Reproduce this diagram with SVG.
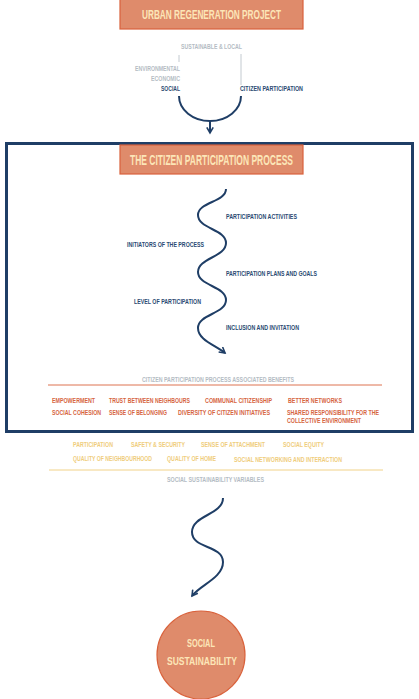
<svg xmlns="http://www.w3.org/2000/svg" width="419" height="699" viewBox="0 0 419 699">
<style>
text{font-family:"Liberation Sans","DejaVu Sans",sans-serif;font-weight:bold}
.box{fill:#df8b6b;stroke:#d9623c;stroke-width:1.2}
.ttl{fill:#fce6b8}
.grey{fill:#b4bcc4;font-size:7px}
.navy{fill:#2a4a72;font-size:7.5px}
.or{fill:#d6653f;font-size:7.5px}
.gold{fill:#efcd7c;font-size:7.5px}
.wave{fill:none;stroke:#1f3e66;stroke-width:2}
</style>
<defs>
<marker id="ah" viewBox="0 0 10 10" refX="8" refY="5" markerWidth="4" markerHeight="4" orient="auto" markerUnits="strokeWidth">
<path d="M1,1 L8,5 L1,9" fill="none" stroke="#1f3e66" stroke-width="2"/>
</marker>
</defs>
<rect x="0" y="0" width="419" height="699" fill="#ffffff"/>

<g id="urban-regeneration-project">
<rect class="box" x="120" y="-1" width="183" height="30"/>
<text class="ttl" transform="scale(0.7 1)" x="202.86" y="19" font-size="12.5" textLength="198.57" lengthAdjust="spacingAndGlyphs">URBAN REGENERATION PROJECT</text>
</g>

<g id="sustainability-labels">
<text class="grey" transform="scale(0.7 1)" x="258.57" y="49" textLength="87.14" lengthAdjust="spacingAndGlyphs">SUSTAINABLE &amp; LOCAL</text>
<line x1="179" y1="55" x2="179" y2="62" stroke="#b4bcc4" stroke-width="0.8"/>
<line x1="241" y1="54" x2="241" y2="85" stroke="#b4bcc4" stroke-width="0.8"/>
<text class="grey" transform="scale(0.7 1)" x="192.86" y="71" textLength="64.29" lengthAdjust="spacingAndGlyphs">ENVIRONMENTAL</text>
<text class="grey" transform="scale(0.7 1)" x="215.71" y="81" textLength="41.43" lengthAdjust="spacingAndGlyphs">ECONOMIC</text>
<text class="navy" transform="scale(0.7 1)" x="230" y="91" textLength="27.14" lengthAdjust="spacingAndGlyphs">SOCIAL</text>
<text class="navy" transform="scale(0.7 1)" x="342.86" y="91" textLength="90" lengthAdjust="spacingAndGlyphs">CITIZEN PARTICIPATION</text>
</g>

<g id="citizen-participation-process">
<rect x="6.5" y="143.5" width="406" height="288" fill="none" stroke="#1f3e66" stroke-width="3"/>
<rect class="box" x="120" y="145" width="183" height="29"/>
<text class="ttl" transform="scale(0.7 1)" x="185.71" y="165" font-size="15" textLength="232.86" lengthAdjust="spacingAndGlyphs">THE CITIZEN PARTICIPATION PROCESS</text>
<text class="navy" transform="scale(0.7 1)" x="322.86" y="219" textLength="101.43" lengthAdjust="spacingAndGlyphs">PARTICIPATION ACTIVITIES</text>
<text class="navy" transform="scale(0.7 1)" x="181.43" y="247" textLength="110" lengthAdjust="spacingAndGlyphs">INITIATORS OF THE PROCESS</text>
<text class="navy" transform="scale(0.7 1)" x="322.86" y="276" textLength="130" lengthAdjust="spacingAndGlyphs">PARTICIPATION PLANS AND GOALS</text>
<text class="navy" transform="scale(0.7 1)" x="191.43" y="304" textLength="95.71" lengthAdjust="spacingAndGlyphs">LEVEL OF PARTICIPATION</text>
<text class="navy" transform="scale(0.7 1)" x="322.86" y="330" textLength="104.29" lengthAdjust="spacingAndGlyphs">INCLUSION AND INVITATION</text>
</g>

<g id="associated-benefits">
<text class="grey" transform="scale(0.7 1)" x="202.86" y="382" textLength="217.14" lengthAdjust="spacingAndGlyphs">CITIZEN PARTICIPATION PROCESS ASSOCIATED BENEFITS</text>
<line x1="48" y1="385" x2="382" y2="385" stroke="#d9623c" stroke-width="0.9"/>
<text class="or" transform="scale(0.7 1)" x="74.29" y="403" textLength="61.43" lengthAdjust="spacingAndGlyphs">EMPOWERMENT</text>
<text class="or" transform="scale(0.7 1)" x="155.71" y="403" textLength="115.71" lengthAdjust="spacingAndGlyphs">TRUST BETWEEN NEIGHBOURS</text>
<text class="or" transform="scale(0.7 1)" x="292.86" y="403" textLength="95.71" lengthAdjust="spacingAndGlyphs">COMMUNAL CITIZENSHIP</text>
<text class="or" transform="scale(0.7 1)" x="411.43" y="403" textLength="77.14" lengthAdjust="spacingAndGlyphs">BETTER NETWORKS</text>
<text class="or" transform="scale(0.7 1)" x="74.29" y="415" textLength="70" lengthAdjust="spacingAndGlyphs">SOCIAL COHESION</text>
<text class="or" transform="scale(0.7 1)" x="155.71" y="415" textLength="82.86" lengthAdjust="spacingAndGlyphs">SENSE OF BELONGING</text>
<text class="or" transform="scale(0.7 1)" x="254.29" y="415" textLength="131.43" lengthAdjust="spacingAndGlyphs">DIVERSITY OF CITIZEN INITIATIVES</text>
<text class="or" transform="scale(0.7 1)" x="410" y="415" textLength="131.43" lengthAdjust="spacingAndGlyphs">SHARED RESPONSIBILITY FOR THE</text>
<text class="or" transform="scale(0.7 1)" x="410" y="423" textLength="105.71" lengthAdjust="spacingAndGlyphs">COLLECTIVE ENVIRONMENT</text>
</g>

<g id="social-sustainability-variables">
<text class="gold" transform="scale(0.7 1)" x="104.29" y="447" textLength="57.14" lengthAdjust="spacingAndGlyphs">PARTICIPATION</text>
<text class="gold" transform="scale(0.7 1)" x="187.14" y="447" textLength="77.14" lengthAdjust="spacingAndGlyphs">SAFETY &amp; SECURITY</text>
<text class="gold" transform="scale(0.7 1)" x="287.14" y="447" textLength="91.43" lengthAdjust="spacingAndGlyphs">SENSE OF ATTACHMENT</text>
<text class="gold" transform="scale(0.7 1)" x="404.29" y="447" textLength="58.57" lengthAdjust="spacingAndGlyphs">SOCIAL EQUITY</text>
<text class="gold" transform="scale(0.7 1)" x="104.29" y="461" textLength="112.86" lengthAdjust="spacingAndGlyphs">QUALITY OF NEIGHBOURHOOD</text>
<text class="gold" transform="scale(0.7 1)" x="238.57" y="461" textLength="70" lengthAdjust="spacingAndGlyphs">QUALITY OF HOME</text>
<text class="gold" transform="scale(0.7 1)" x="334.29" y="462" textLength="154.29" lengthAdjust="spacingAndGlyphs">SOCIAL NETWORKING AND INTERACTION</text>
<line x1="49" y1="470" x2="383" y2="470" stroke="#efcd7c" stroke-width="0.9"/>
<text class="grey" transform="scale(0.7 1)" x="238.57" y="482" textLength="138.57" lengthAdjust="spacingAndGlyphs">SOCIAL SUSTAINABILITY VARIABLES</text>
</g>

<g id="social-sustainability">
<circle cx="201" cy="655" r="44" fill="#df8b6b" stroke="#d9623c" stroke-width="1.2"/>
<text class="ttl" transform="scale(0.7 1)" x="287.14" y="647" font-size="10.5" text-anchor="middle" textLength="40" lengthAdjust="spacingAndGlyphs">SOCIAL</text>
<text class="ttl" transform="scale(0.7 1)" x="288.57" y="665" font-size="10.5" text-anchor="middle" textLength="100" lengthAdjust="spacingAndGlyphs">SUSTAINABILITY</text>
</g>

<g id="connectors">
<path class="wave" d="M179,96 A31,25 0 0 0 241,96"/>
<line class="wave" x1="210" y1="121" x2="210" y2="133" marker-end="url(#ah)"/>
<path class="wave" marker-end="url(#ah)" d="M226,189 C226,202 198,202 198,215 C198,229 226,229 226,243 C226,257 198,258 198,272 C198,286 226,286 226,300 C226,314 198,314 198,328 C198,340 215,345 225,353"/>
<path class="wave" marker-end="url(#ah)" d="M223,498 C223,515 192,515 192,532 C192,549 223,545 223,562 C223,578 200,585 192,596"/>
</g>
</svg>
